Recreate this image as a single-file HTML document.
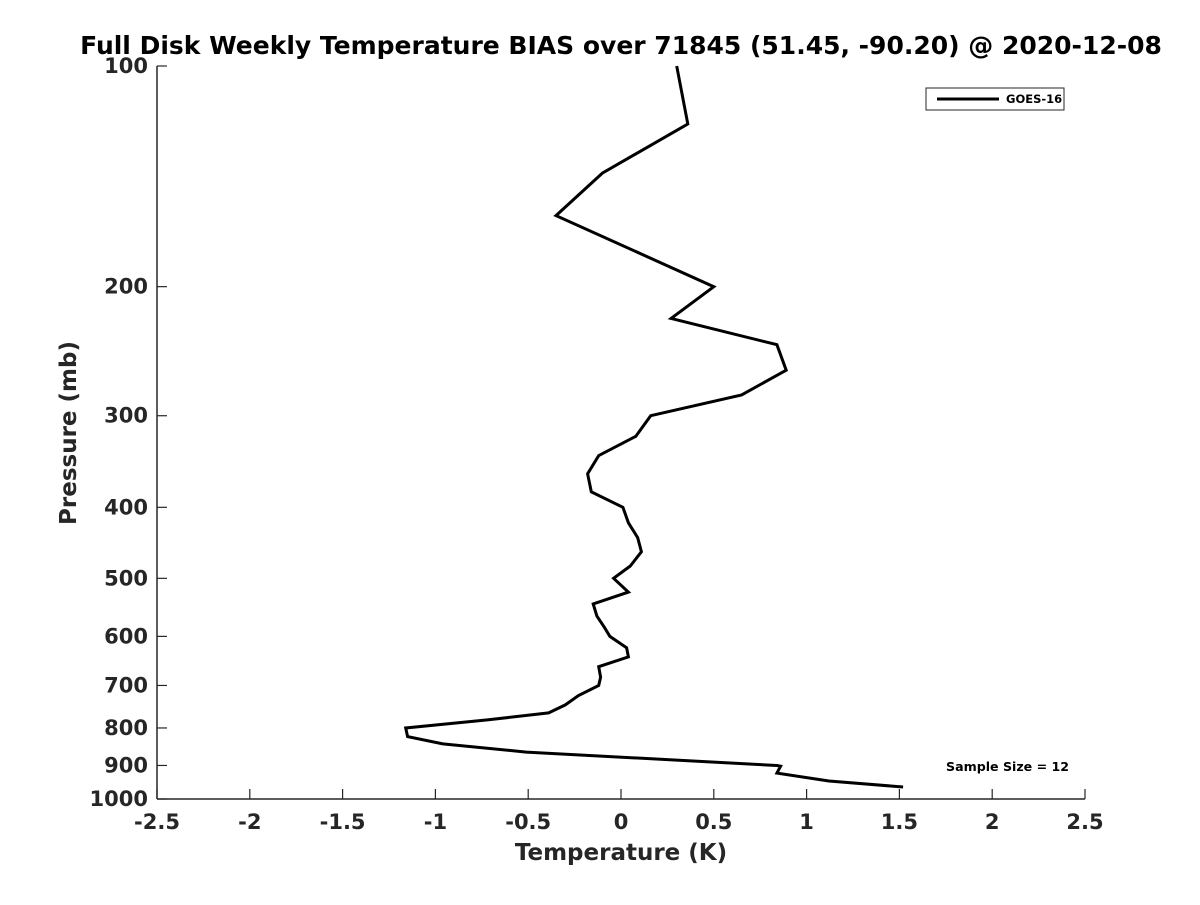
<!DOCTYPE html>
<html><head><meta charset="utf-8"><style>
html,body{margin:0;padding:0;background:#fff;}
svg text{font-family:"DejaVu Sans","Liberation Sans",sans-serif;font-weight:bold;fill:#262626;}
</style></head><body>
<svg id="chart" width="1200" height="900" viewBox="0 0 1200 900">
<rect x="0" y="0" width="1200" height="900" fill="#fff"/>
<text x="621" y="54" text-anchor="middle" font-size="25" style="fill:#000">Full Disk Weekly Temperature BIAS over 71845 (51.45, -90.20) @ 2020-12-08</text>
<g id="axes"></g>
<g id="series"></g>
<text x="621" y="860" text-anchor="middle" font-size="23">Temperature (K)</text>
<text transform="translate(76,433) rotate(-90)" text-anchor="middle" font-size="23">Pressure (mb)</text>
<g>
<rect x="926" y="88" width="138" height="22" fill="#fff" stroke="#262626" stroke-width="1"/>
<line x1="937" y1="99" x2="999" y2="99" stroke="#000" stroke-width="3"/>
<text x="1006" y="103" font-size="11.5" style="fill:#000">GOES-16</text>
</g>
<text x="946" y="771" font-size="12.6" style="fill:#000">Sample Size = 12</text>
</svg>
<script>
const xTicks = [-2.5,-2,-1.5,-1,-0.5,0,0.5,1,1.5,2,2.5];
const xTickLabels = ["-2.5","-2","-1.5","-1","-0.5","0","0.5","1","1.5","2","2.5"];
const yTicks = [100,200,300,400,500,600,700,800,900,1000];
const yTickLabels = ["100","200","300","400","500","600","700","800","900","1000"];
const pressures = [100,120,140,160,200,221,240,260,281,300,320,340,360,381,400,420,440,460,481,500,522,542,563,583,600,622,640,660,682,700,723,744,763,780,800,822,841,863,900,902,922,945,963];
const biasValues = [0.30,0.36,-0.10,-0.35,0.50,0.27,0.84,0.89,0.65,0.16,0.08,-0.12,-0.18,-0.16,0.01,0.04,0.09,0.11,0.05,-0.04,0.04,-0.15,-0.13,-0.09,-0.06,0.03,0.04,-0.12,-0.11,-0.12,-0.23,-0.30,-0.39,-0.72,-1.16,-1.15,-0.96,-0.51,0.84,0.86,0.84,1.12,1.52];

const X0=157,X1=1085,Y0=66,Y1=799;
const xScale=v=>X0+(v+2.5)/5*(X1-X0);
const yScale=p=>Y0+(Math.log10(p)-2)*(Y1-Y0);
const NS='http://www.w3.org/2000/svg';
const axes=document.getElementById('axes');
function mk(tag,attrs,parent){const e=document.createElementNS(NS,tag);for(const k in attrs)e.setAttribute(k,attrs[k]);parent.appendChild(e);return e;}
const yl=mk('line',{x1:X0,y1:Y0,x2:X0,y2:Y1,stroke:'#262626','stroke-width':1.5},axes);


const xl=mk('line',{x1:X0,y1:Y1,x2:X1,y2:Y1,stroke:'#262626','stroke-width':1.5},axes);


xTicks.forEach((v,i)=>{
  const x=xScale(v);
  const t=mk('line',{x1:x,y1:Y1,x2:x,y2:Y1-10,stroke:'#262626','stroke-width':1.2},axes);
  
  
  const l=mk('text',{x:x,y:Y1+30,'text-anchor':'middle','font-size':21},axes);
  l.textContent=xTickLabels[i];
  
  
});
yTicks.forEach((p,i)=>{
  const y=yScale(p);
  const t=mk('line',{x1:X0,y1:y,x2:X0+10,y2:y,stroke:'#262626','stroke-width':1.2},axes);
  
  
  const l=mk('text',{x:X0-9,y:y+7,'text-anchor':'end','font-size':21},axes);
  l.textContent=yTickLabels[i];
  
  
});
const pts=pressures.map((p,i)=>xScale(biasValues[i]).toFixed(1)+','+yScale(p).toFixed(1)).join(' ');
const line=mk('polyline',{points:pts,fill:'none',stroke:'#000','stroke-width':3,'stroke-linejoin':'miter'},document.getElementById('series'));


</script>
</body></html>
